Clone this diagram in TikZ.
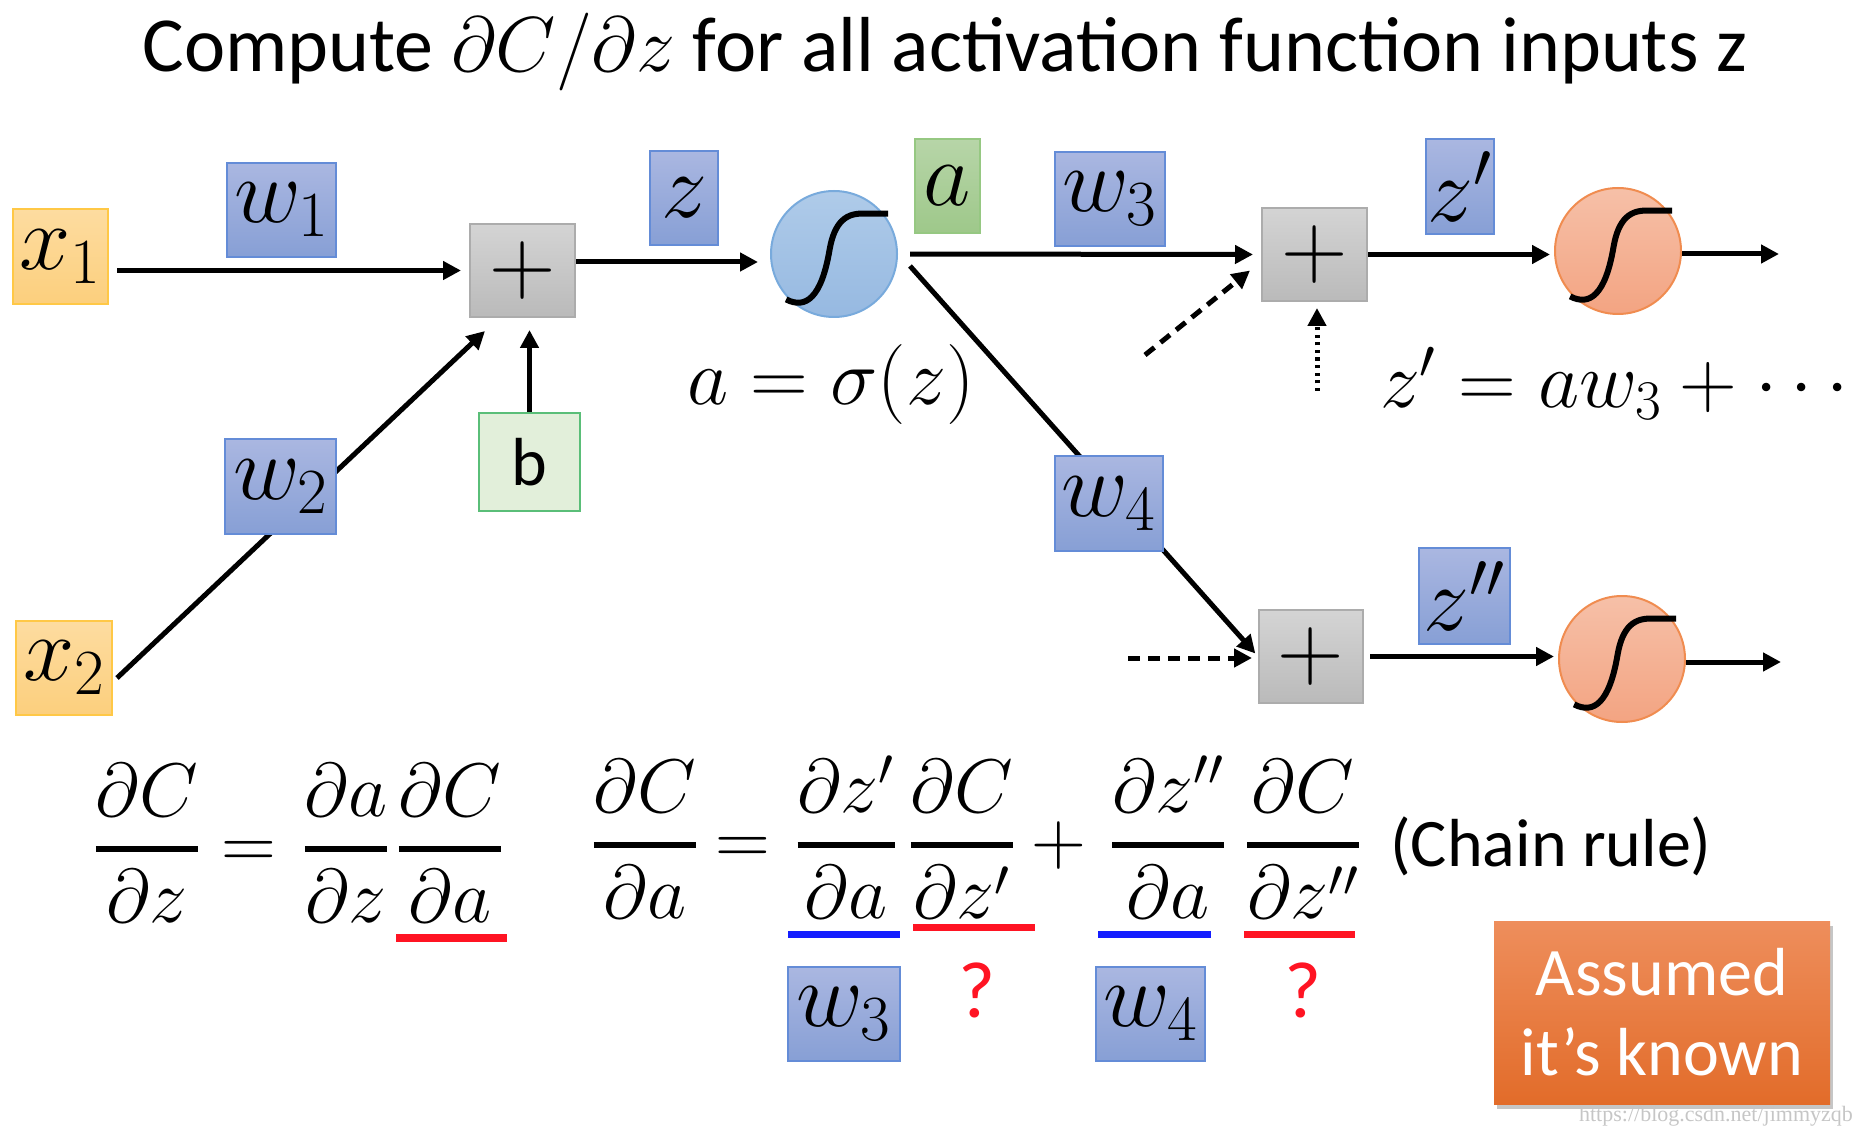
\RequirePackage{fix-cm}
\documentclass[tikz,border=0pt]{standalone}
\usepackage{amsmath}
\usepackage{fontspec}
\setmainfont{Carlito}
\newfontfamily\wmfont{Liberation Serif}
\usetikzlibrary{arrows.meta,backgrounds,shadows}

\definecolor{wtop}{RGB}{170,183,225}
\definecolor{wbot}{RGB}{135,159,213}
\definecolor{wline}{RGB}{100,140,215}
\definecolor{xtop}{RGB}{253,220,160}
\definecolor{xbot}{RGB}{252,207,125}
\definecolor{xline}{RGB}{255,200,70}
\definecolor{ptop}{RGB}{212,212,212}
\definecolor{pbot}{RGB}{186,186,186}
\definecolor{pline}{RGB}{172,172,172}
\definecolor{bfill}{RGB}{226,239,218}
\definecolor{bline}{RGB}{90,190,120}
\definecolor{atop}{RGB}{183,213,168}
\definecolor{abot}{RGB}{158,200,138}
\definecolor{aline}{RGB}{150,200,130}
\definecolor{stop}{RGB}{175,203,233}
\definecolor{sbot}{RGB}{150,185,225}
\definecolor{sline}{RGB}{120,170,220}
\definecolor{otop}{RGB}{246,192,168}
\definecolor{obot}{RGB}{243,164,130}
\definecolor{oline}{RGB}{240,140,80}
\definecolor{ktop}{RGB}{238,142,92}
\definecolor{kbot}{RGB}{226,108,42}
\definecolor{ured}{RGB}{255,20,35}
\definecolor{ublue}{RGB}{20,30,255}

\newcommand\myfrac[2]{\genfrac{}{}{3pt}{0}{#1}{#2}}
\newcommand\mathbig{\fontsize{46}{50}\selectfont}
\newcommand\mathmid{\fontsize{40}{46}\selectfont}
\newcommand\eqfont{\fontsize{38}{44}\selectfont}

\tikzset{
  boxbase/.style={rectangle, inner sep=0pt, line width=1pt, font=\mathbig},
  wbox/.style={boxbase, draw=wline, top color=wtop, bottom color=wbot},
  xbox/.style={boxbase, draw=xline, top color=xtop, bottom color=xbot},
  plusbox/.style={boxbase, draw=pline, top color=ptop, bottom color=pbot,
    minimum width=52.5pt, minimum height=46.5pt},
  bbox/.style={rectangle, inner sep=0pt, line width=1pt, draw=bline, fill=bfill,
    font=\fontsize{34}{40}\selectfont},
  abox/.style={boxbase, draw=aline, top color=atop, bottom color=abot},
  sigblue/.style={circle, minimum size=63pt, inner sep=0pt, line width=1pt,
    draw=sline, top color=stop, bottom color=sbot},
  sigor/.style={circle, minimum size=63pt, inner sep=0pt, line width=1pt,
    draw=oline, top color=otop, bottom color=obot},
  arr/.style={-{Triangle[length=9pt,width=9pt]}, line width=2.5pt},
  dashline/.style={arr, dash pattern=on 6pt off 4pt},
  dotline/.style={arr, dash pattern=on 1.6pt off 2.2pt},
  eqnode/.style={anchor=base, inner sep=0pt, font=\eqfont},
  qmark/.style={text=ured, font=\fontsize{40}{46}\selectfont, inner sep=0pt},
}

\newcommand\sigcurve[1]{%
  \draw[line width=3pt, line cap=butt]
    ([shift={(-47.9,45.4)}]#1.center)
    .. controls ([shift={(-28.4,55.4)}]#1.center) and ([shift={(-12.6,44.1)}]#1.center)
    .. ([shift={(-4.4,-4.4)}]#1.center)
    .. controls ([shift={(0.6,-32.8)}]#1.center) and ([shift={(12.6,-41.6)}]#1.center)
    .. ([shift={(31.5,-40.3)}]#1.center)
    -- ([shift={(54.2,-40.3)}]#1.center);}

\begin{document}
\begin{tikzpicture}[x=0.5pt,y=-0.5pt]
\useasboundingbox (0,0) rectangle (1876,1134);

% title
\node[font=\fontsize{39}{46}\selectfont, inner sep=0pt] (title) at (945,52)
  {Compute $\partial C/\partial z$ for all activation function inputs z};

% left part
\node[xbox, minimum width=47.5pt, minimum height=47.5pt] (x1) at (60.5,256.5) {$x_1$};
\node[wbox, minimum width=54.5pt, minimum height=47pt] (w1) at (281.5,210) {$w_1$};
\node[plusbox] (p1) at (522.5,270.5) {$+$};
\node[bbox, minimum width=50.5pt, minimum height=49pt] (b) at (529.5,462) {b};
\node[wbox, minimum width=55.5pt, minimum height=47.5pt] (w2) at (280.5,486.5) {$w_2$};
\node[xbox, minimum width=48pt, minimum height=47pt] (x2) at (64,668) {$x_2$};
\node[wbox, minimum width=34pt, minimum height=47pt] (z) at (684,198) {$z$};
\node[sigblue] (s1) at (834,254) {};
\node[abox, minimum width=32.5pt, minimum height=47pt] (a) at (947.5,186) {$a$};
\node[font=\mathmid, inner sep=0pt] (aeq) at (831,385) {$a=\sigma(z)$};

% right part
\node[wbox, minimum width=55pt, minimum height=47pt] (w3) at (1110,199) {$w_3$};
\node[plusbox] (p3) at (1314.5,254.5) {$+$};
\node[wbox, minimum width=34pt, minimum height=47.5pt] (zp) at (1460,186.5) {$z'$};
\node[sigor] (s2) at (1618,251) {};
\node[font=\mathmid, inner sep=0pt] (zeq) at (1621,383) {$z'=aw_3+\cdots$};
\node[wbox, minimum width=54pt, minimum height=47.5pt] (w4) at (1109,503.5) {$w_4$};
\node[plusbox, minimum width=52pt] (p4) at (1311,656.5) {$+$};
\node[wbox, minimum width=45.5pt, minimum height=48pt] (zpp) at (1464.5,596) {$z''$};
\node[sigor] (s3) at (1622,659) {};

\coordinate (d1) at (1145,355);
\coordinate (d2) at (1317,391);
\coordinate (d3) at (1128,658);
\coordinate (o1) at (1779,254);
\coordinate (o2) at (1781,662);

\sigcurve{s1}
\sigcurve{s2}
\sigcurve{s3}

\begin{scope}[on background layer]
  \draw[arr, shorten <=4pt, shorten >=4pt] (x1.east |- p1.west) -- (p1.west);
  \draw[arr] ([shift={(4,10)}]x2.east) -- ([shift={(16,13)}]p1.south west);
  \draw[arr, shorten >=6pt] (b.north) -- (b.north |- p1.south);
  \draw[arr, shorten >=6pt] ([yshift=4.25pt]p1.east) -- ([yshift=-4pt]s1.west);
  \draw[arr, shorten <=6pt, shorten >=4pt] (s1.east) -- (p3.west);
  \draw[arr, shorten >=2pt] ([shift={(12,12)}]s1.east) -- (p4.west);
  \draw[dashline] (d1) -- ([shift={(-11,16)}]p3.west);
  \draw[dotline, shorten >=3pt] (d2) -- (d2 |- p3.south);
  \draw[arr, shorten >=2pt] (p3.east) -- (p3.east -| s2.west);
  \draw[arr] (o1 -| s2.east) -- (o1);
  \draw[dashline, shorten >=3pt] (d3) -- (d3 -| p4.west);
  \draw[arr, shorten <=3pt, shorten >=2pt] (p4.east) -- (p4.east -| s3.west);
  \draw[arr] (o2 -| s3.east) -- (o2);
\end{scope}

% equations
\node[eqnode] (e1a) at (147,868) {$\myfrac{\partial C}{\partial z}$};
\node[eqnode] (e1q) at (249,868) {$=$};
\node[eqnode] (e1b) at (346,868) {$\myfrac{\partial a}{\partial z}$};
\node[eqnode] (e1c) at (450,868) {$\myfrac{\partial C}{\partial a}$};

\node[eqnode] (e2a) at (645,864) {$\myfrac{\partial C}{\partial a}$};
\node[eqnode] (e2q) at (743,864) {$=$};
\node[eqnode] (e2b) at (846,864) {$\myfrac{\partial z'}{\partial a}$};
\node[eqnode] (e2c) at (962,864) {$\myfrac{\partial C}{\partial z'}$};
\node[eqnode] (e2p) at (1059,864) {$+$};
\node[eqnode] (e2d) at (1168,864) {$\myfrac{\partial z''}{\partial a}$};
\node[eqnode] (e2e) at (1303,864) {$\myfrac{\partial C}{\partial z''}$};
\node[font=\fontsize{34}{40}\selectfont, inner sep=0pt] (chain) at (1551,846) {(Chain rule)};

\fill[ured] (396,934) rectangle (507,942);
\fill[ublue] (788,931) rectangle (900,938);
\fill[ured] (913,924) rectangle (1035,931);
\fill[ublue] (1098,931) rectangle (1211,938);
\fill[ured] (1244,931) rectangle (1355,938);

\node[wbox, minimum width=56pt, minimum height=47pt] (w3b) at (844,1014) {$w_3$};
\node[qmark] (q1) at (977,990) {?};
\node[wbox, minimum width=54.5pt, minimum height=47pt] (w4b) at (1150.5,1014) {$w_4$};
\node[qmark] (q2) at (1303,990) {?};

\node[rectangle, top color=ktop, bottom color=kbot, text=white, align=center,
  minimum width=168pt, minimum height=91.5pt, inner sep=0pt,
  font=\fontsize{34}{40}\selectfont,
  drop shadow={shadow xshift=1.5pt, shadow yshift=-2.5pt, opacity=0.45}]
  (known) at (1662,1012.5) {Assumed\\it’s known};

\node[text=gray!45, font=\wmfont\fontsize{11}{12}\selectfont, inner sep=0pt]
  (wm) at (1716,1116) {https://blog.csdn.net/jimmyzqb};
\end{tikzpicture}
\end{document}
